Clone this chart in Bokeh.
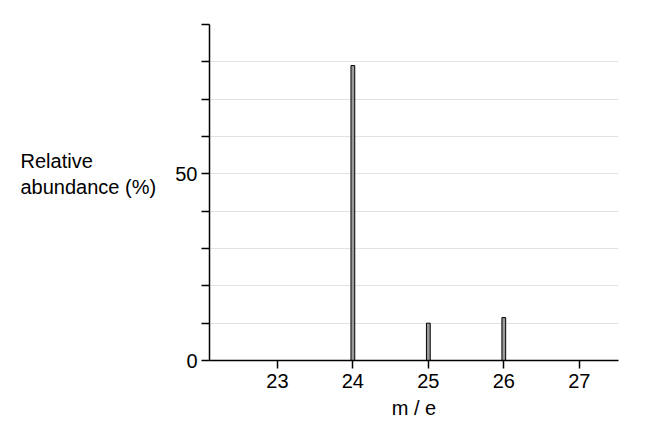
from bokeh.plotting import figure
from bokeh.models import FixedTicker, Range1d
from bokeh.layouts import row
from bokeh.core.properties import value
from bokeh.embed import file_html
from bokeh.resources import INLINE

mass = [24, 25, 26]
abundance = [79, 10, 11.5]
x_ticks = [23, 24, 25, 26, 27]
y_major = [0, 50]
y_minor = [10, 20, 30, 40, 60, 70, 80, 90]
y_grid = [10, 20, 30, 40, 50, 60, 70, 80, 90]
y_title = "Relative\nabundance (%)"
x_title = "m / e"

FONT = "Liberation Sans"
FS = "20px"
H = 425
LEFT_W = 160

yr = Range1d(0, 90)

# Left panel holding the horizontal y-axis title
pl = figure(width=LEFT_W, height=H, output_backend="svg", toolbar_location=None,
            x_range=Range1d(0, LEFT_W), y_range=yr,
            min_border_left=0, min_border_right=0, min_border_top=24, min_border_bottom=65)
pl.axis.visible = False
pl.grid.grid_line_color = None
pl.outline_line_color = None
pl.text(x=[20], y=[50], text=[y_title], text_align="left", text_baseline="middle",
        text_font=value(FONT), text_font_size=value(FS), text_color="black",
        text_line_height=1.2)

p = figure(width=630 - LEFT_W, height=H, output_backend="svg", toolbar_location=None,
           x_range=Range1d(22.1, 27.52), y_range=yr,
           min_border_left=209 - LEFT_W, min_border_right=12, min_border_top=24,
           min_border_bottom=65)
p.outline_line_color = None
p.background_fill_color = "white"

p.vbar(x=mass, top=abundance, width=0.05, bottom=0,
       fill_color="#9a9a9a", line_color="black", line_width=1)

p.xaxis.ticker = FixedTicker(ticks=x_ticks)
p.xaxis.axis_label = x_title
p.xaxis.axis_label_text_font = FONT
p.xaxis.axis_label_text_font_style = "normal"
p.xaxis.axis_label_text_font_size = FS
p.xaxis.axis_label_text_color = "black"
p.xaxis.axis_label_standoff = 6
p.xaxis.major_label_text_font = FONT
p.xaxis.major_label_text_font_size = FS
p.xaxis.major_label_text_color = "black"
p.xaxis.major_tick_out = 8
p.xaxis.major_tick_in = 0
p.xaxis.minor_tick_line_color = None
p.xaxis.axis_line_width = 1.5
p.xaxis.major_tick_line_width = 1.5
p.xaxis.major_label_standoff = 5

p.yaxis.ticker = FixedTicker(ticks=y_major, minor_ticks=y_minor)
p.yaxis.major_label_text_font = FONT
p.yaxis.major_label_text_font_size = FS
p.yaxis.major_label_text_color = "black"
p.yaxis.major_tick_out = 8
p.yaxis.major_tick_in = 0
p.yaxis.minor_tick_out = 8
p.yaxis.minor_tick_in = 0
p.yaxis.axis_line_width = 1.5
p.yaxis.major_tick_line_width = 1.5
p.yaxis.minor_tick_line_width = 1.5
p.yaxis.major_label_standoff = 4

p.xgrid.grid_line_color = None
p.ygrid.ticker = FixedTicker(ticks=y_grid)
p.ygrid.grid_line_color = "#e3e3e3"
p.ygrid.grid_line_width = 1

layout = row(pl, p, spacing=0)
open("out.html", "w").write(file_html(layout, INLINE))
